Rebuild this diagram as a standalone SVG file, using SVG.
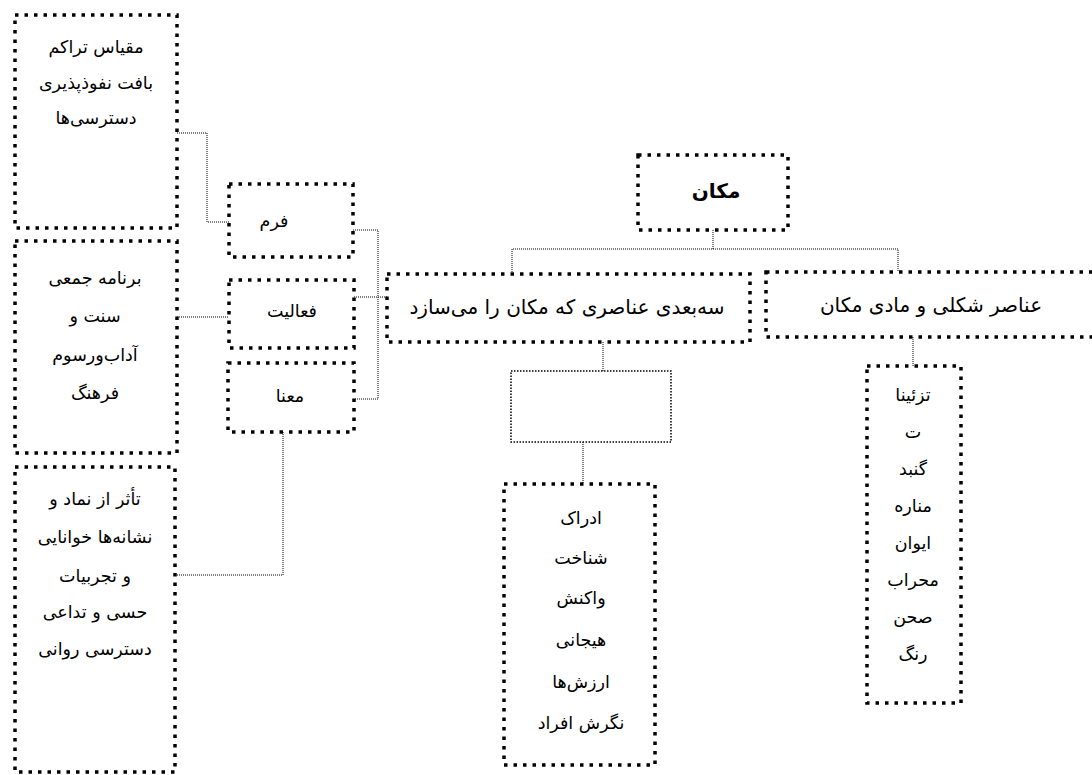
<svg xmlns="http://www.w3.org/2000/svg" width="1092" height="775" viewBox="0 0 1092 775">
<style>
.box{fill:#fff;stroke:#000;stroke-width:3.5;stroke-dasharray:3.5 6}
.thin{fill:none;stroke:#000;stroke-width:1.5;stroke-dasharray:1.5 1.5}
.conn{fill:none;stroke:#000;stroke-width:1;stroke-dasharray:1 1}
text{font-family:"DejaVu Sans",sans-serif;font-size:17.5px;fill:#000;text-anchor:middle;direction:rtl}
.big{font-size:20px}
.title{font-size:20px;font-weight:bold}
</style>
<defs>
<clipPath id="clipR"><rect x="867" y="366" width="94" height="331"/></clipPath>
</defs>
<rect width="1092" height="775" fill="#fff"/>
<g id="connectors">
<polyline class="conn" points="177,133 207,133 207,222 229,222"/>
<polyline class="conn" points="177,317 229,317"/>
<polyline class="conn" points="175,575 283,575 283,432"/>
<polyline class="conn" points="353,230 378,230 378,399 354,399"/>
<polyline class="conn" points="354,297 387,297"/>
<polyline class="conn" points="713,230 713,249"/>
<polyline class="conn" points="512,274 512,249 898,249 898,272"/>
<polyline class="conn" points="603,342 603,371"/>
<polyline class="conn" points="583,442 583,484"/>
<polyline class="conn" points="913,337 913,366"/>
</g>
<g id="n-maqyas">
<rect class="box" x="15" y="15" width="162" height="213"/>
<text x="96" y="53">مقیاس تراکم</text>
<text x="96" y="89">بافت نفوذپذیری</text>
<text x="96" y="124">دسترسی‌ها</text>
</g>
<g id="n-barname">
<rect class="box" x="15" y="241" width="162" height="212"/>
<text x="95" y="284">برنامه جمعی</text>
<text x="95" y="322">سنت و</text>
<text x="95" y="361">آداب‌ورسوم</text>
<text x="95" y="399">فرهنگ</text>
</g>
<g id="n-tasir">
<rect class="box" x="15" y="467" width="160" height="305"/>
<text x="95" y="505">تأثر از نماد و</text>
<text x="95" y="543">نشانه‌ها خوانایی</text>
<text x="95" y="582">و تجربیات</text>
<text x="95" y="618">حسی و تداعی</text>
<text x="95" y="655">دسترسی روانی</text>
</g>
<g id="n-form">
<rect class="box" x="229" y="184" width="124" height="73"/>
<text x="274" y="227">فرم</text>
</g>
<g id="n-faaliat">
<rect class="box" x="229" y="280" width="125" height="68"/>
<text x="292" y="317">فعالیت</text>
</g>
<g id="n-mana">
<rect class="box" x="228" y="363" width="126" height="69"/>
<text x="290" y="402">معنا</text>
</g>
<g id="n-makan">
<rect class="box" x="638" y="155" width="150" height="75"/>
<text class="title" x="716" y="198">مکان</text>
</g>
<g id="n-sebodi">
<rect class="box" x="387" y="274" width="363" height="68"/>
<text class="big" x="567" y="314">سه‌بعدی عناصری که مکان را می‌سازد</text>
</g>
<g id="n-anasor">
<rect class="box" x="766" y="272" width="340" height="65"/>
<text class="big" x="931" y="312">عناصر شکلی و مادی مکان</text>
</g>
<g id="n-empty">
<rect class="thin" x="511" y="371" width="160" height="71"/>
</g>
<g id="n-edrak">
<rect class="box" x="504" y="484" width="151" height="281"/>
<text x="581" y="524">ادراک</text>
<text x="581" y="564">شناخت</text>
<text x="581" y="604">واکنش</text>
<text x="581" y="646">هیجانی</text>
<text x="581" y="688">ارزش‌ها</text>
<text x="581" y="729">نگرش افراد</text>
</g>
<g id="n-tazinat">
<rect class="box" x="867" y="366" width="94" height="337"/>
<g clip-path="url(#clipR)">
<text x="913" y="401">تزئینا</text>
<text x="913" y="438">ت</text>
<text x="913" y="475">گنبد</text>
<text x="913" y="512">مناره</text>
<text x="913" y="549">ایوان</text>
<text x="913" y="586">محراب</text>
<text x="913" y="623">صحن</text>
<text x="913" y="660">رنگ</text>
<text x="913" y="706">نور</text>
</g>
</g>
</svg>
